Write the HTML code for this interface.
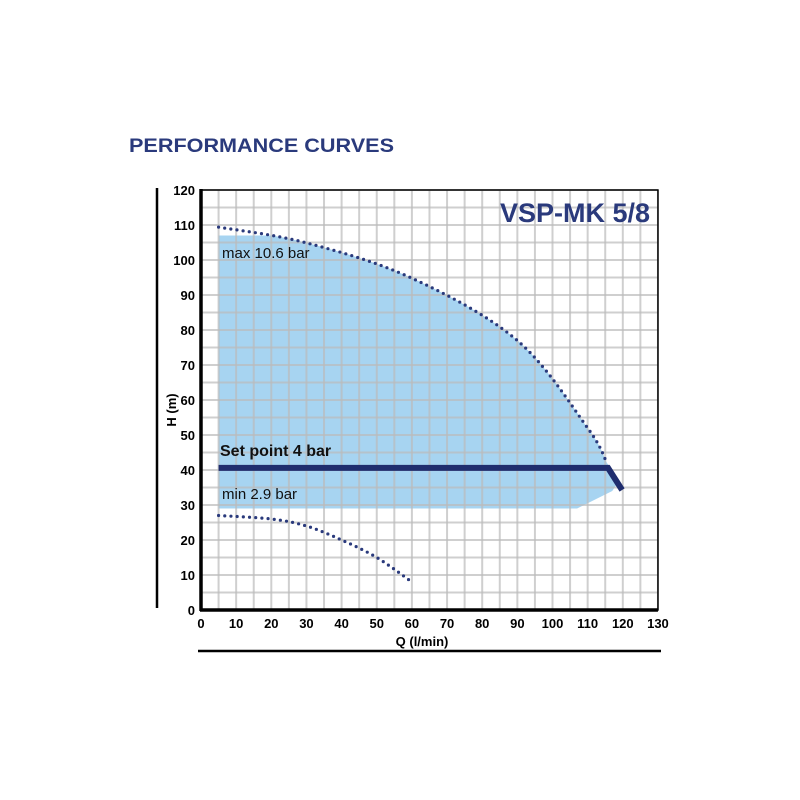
<!DOCTYPE html>
<html><head><meta charset="utf-8"><style>
body{margin:0;background:#fff;width:800px;height:800px;overflow:hidden}
svg{display:block}
</style></head><body>
<svg width="800" height="800" viewBox="0 0 800 800" xmlns="http://www.w3.org/2000/svg" font-family="Liberation Sans, sans-serif">
<text x="129" y="152" font-size="19" font-weight="bold" fill="#2a3a7c" textLength="265" lengthAdjust="spacingAndGlyphs">PERFORMANCE CURVES</text>
<g id="plot"></g>
<line x1="157" y1="188" x2="157" y2="608" stroke="#000" stroke-width="2.5"/>
<line x1="198" y1="651" x2="661" y2="651" stroke="#000" stroke-width="2.5"/>
<text transform="translate(176,410) rotate(-90)" text-anchor="middle" font-size="13" font-weight="bold">H (m)</text>
<text x="422" y="646" text-anchor="middle" font-size="13" font-weight="bold">Q (l/min)</text>
</svg>
<script>
const g=document.getElementById('plot');
const X=q=>201+q*3.515, Y=h=>610-h*3.5;
function interp(P){ // catmull-rom sampled
  const out=[];
  for(let i=0;i<P.length-1;i++){
    const p0=P[Math.max(0,i-1)],p1=P[i],p2=P[i+1],p3=P[Math.min(P.length-1,i+2)];
    for(let t=0;t<1;t+=0.02){
      const t2=t*t,t3=t2*t;
      const f=k=>0.5*((2*p1[k])+(-p0[k]+p2[k])*t+(2*p0[k]-5*p1[k]+4*p2[k]-p3[k])*t2+(-p0[k]+3*p1[k]-3*p2[k]+p3[k])*t3);
      out.push([f(0),f(1)]);
    }
  }
  out.push(P[P.length-1]);return out;
}
const HI=interp([[5,109.4],[30,104.9],[60,94.8],[90,77],[110,52],[115.5,42]]);
const LO=interp([[5,27],[20,26],[30,24],[40,20],[50,15],[60,8]]);
let s='';
let pts=[[X(5),Y(107)]];
HI.forEach(p=>{pts.push([X(p[0]),Y(Math.min(p[1],107))]);});
pts.push([X(119),Y(37)],[X(117),Y(34)],[X(107),Y(29)],[X(5),Y(29)]);
s+=`<polygon points="${pts.map(p=>p.join(',')).join(' ')}" fill="#a7d4f1"/>`;
for(let i=0;i<=26;i++){const x=X(i*5);s+=`<line x1="${x}" y1="${Y(0)}" x2="${x}" y2="${Y(120)}" stroke="#bbb" stroke-opacity="0.7" stroke-width="2"/>`;}
for(let i=0;i<=24;i++){const y=Y(i*5);s+=`<line x1="${X(0)}" y1="${y}" x2="${X(130)}" y2="${y}" stroke="#bbb" stroke-opacity="0.7" stroke-width="2"/>`;}
s+=`<rect x="${X(0)}" y="${Y(120)}" width="${X(130)-X(0)}" height="${Y(0)-Y(120)}" fill="none" stroke="#000" stroke-width="1.5"/>`;
s+=`<line x1="${X(0)}" y1="${Y(120)-1}" x2="${X(0)}" y2="${Y(0)+1}" stroke="#000" stroke-width="3.5"/>`;
s+=`<line x1="${X(0)-1}" y1="${Y(0)}" x2="${X(130)}" y2="${Y(0)}" stroke="#000" stroke-width="3.5"/>`;
const path=P=>P.map((p,i)=>(i?'L':'M')+X(p[0]).toFixed(2)+','+Y(p[1]).toFixed(2)).join('');
s+=`<path d="${path(HI)}" fill="none" stroke="#2a3a7c" stroke-width="3.2" stroke-linecap="round" stroke-dasharray="0 6.2"/>`;
s+=`<path d="${path(LO)}" fill="none" stroke="#2a3a7c" stroke-width="3.2" stroke-linecap="round" stroke-dasharray="0 6.2"/>`;
s+=`<polyline points="${X(5)},${Y(40.6)} ${X(115.8)},${Y(40.6)} ${X(119.8)},${Y(34.3)}" fill="none" stroke="#1f2d6e" stroke-width="6"/>`;
for(let i=0;i<=13;i++)s+=`<text x="${X(i*10)}" y="628" text-anchor="middle" font-size="13" font-weight="bold">${i*10}</text>`;
for(let i=0;i<=12;i++)s+=`<text x="195" y="${Y(i*10)+5}" text-anchor="end" font-size="13" font-weight="bold">${i*10}</text>`;
s+=`<text x="222" y="258" font-size="15" fill="#111">max 10.6 bar</text>`;
s+=`<text x="220" y="456" font-size="16" font-weight="bold" fill="#111">Set point 4 bar</text>`;
s+=`<text x="222" y="499" font-size="15" fill="#111">min 2.9 bar</text>`;
s+=`<text x="650" y="222" text-anchor="end" font-size="27" font-weight="bold" fill="#2a3a7c">VSP-MK 5/8</text>`;
g.innerHTML=s;
</script>
</body></html>
